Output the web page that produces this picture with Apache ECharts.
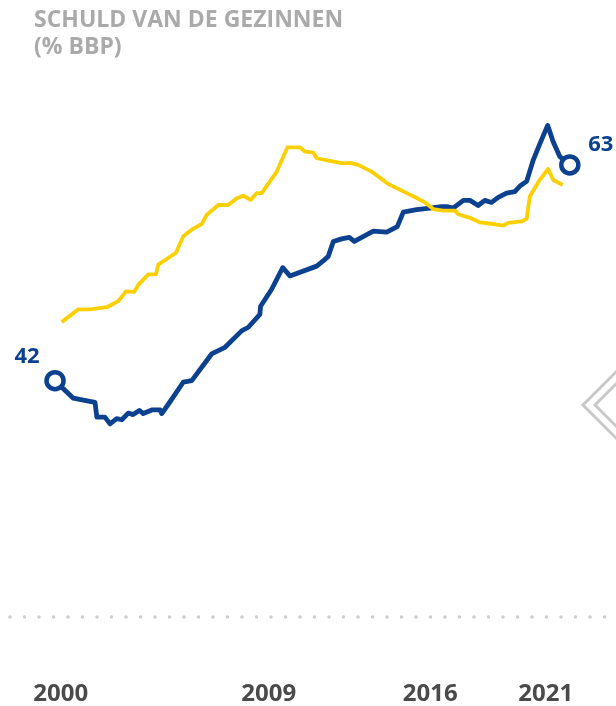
<!DOCTYPE html>
<html>
<head>
<meta charset="utf-8">
<script src="https://cdn.jsdelivr.net/npm/echarts@6/dist/echarts.min.js"></script>
<style>
  html, body { margin: 0; padding: 0; background: #fff; }
  #chart { width: 616px; height: 706px; }
</style>
</head>
<body>
<div id="chart"></div>
<script>
// Schuld van de gezinnen (% BBP) - blauw: België, geel: eurozone
const belgieYears = [
  2000.00, 2000.79, 2001.23, 2001.73, 2001.81, 2002.16, 2002.38, 2002.67, 2002.89, 2003.17,
  2003.38, 2003.65, 2003.82, 2004.19, 2004.55, 2004.62, 2004.98, 2005.55, 2005.92, 2006.78,
  2007.36, 2008.08, 2008.37, 2008.87, 2008.90, 2009.38, 2009.86, 2010.17, 2011.33, 2011.61,
  2011.83, 2012.05, 2012.41, 2012.74, 2012.96, 2013.28, 2013.78, 2014.36, 2014.82, 2015.08,
  2015.66, 2016.23, 2016.74, 2016.96, 2017.24, 2017.68, 2017.97, 2018.32, 2018.61, 2018.90,
  2019.19, 2019.55, 2019.91, 2020.13, 2020.42, 2020.71, 2021.00, 2021.33, 2021.57, 2021.86,
  2022.29
];
const belgieValues = [
  42.0, 40.3, 40.1, 39.9, 38.45, 38.45, 37.8, 38.3, 38.2, 38.85,
  38.7, 39.1, 38.8, 39.15, 39.15, 38.8, 39.95, 41.85, 42.0, 44.6,
  45.25, 46.85, 47.2, 48.45, 49.25, 50.9, 53.0, 52.2, 53.15, 53.65,
  54.1, 55.55, 55.8, 55.95, 55.55, 55.95, 56.55, 56.45, 57.0, 58.4,
  58.65, 58.8, 58.95, 58.95, 58.8, 59.55, 59.55, 59.05, 59.55, 59.35,
  59.85, 60.25, 60.4, 60.95, 61.4, 63.5, 65.1, 66.85, 65.25, 63.8,
  63.0
];
const euroYears = [
  2000.29, 2001.01, 2001.52, 2002.24, 2002.74, 2003.07, 2003.43, 2003.61, 2004.04, 2004.37,
  2004.47, 2005.24, 2005.55, 2005.92, 2006.35, 2006.57, 2007.07, 2007.50, 2007.87, 2008.15,
  2008.47, 2008.73, 2008.95, 2009.60, 2010.06, 2010.61, 2010.82, 2011.18, 2011.33, 2011.90,
  2012.48, 2012.77, 2013.13, 2013.71, 2014.43, 2015.01, 2015.51, 2016.02, 2016.38, 2016.81,
  2017.32, 2017.46, 2017.97, 2018.40, 2018.97, 2019.41, 2019.62, 2020.20, 2020.42, 2020.56,
  2020.99, 2021.35, 2021.57, 2021.98
];
const euroValues = [
  47.7, 48.95, 48.95, 49.15, 49.75, 50.7, 50.65, 51.35, 52.35, 52.35,
  53.3, 54.45, 56.05, 56.7, 57.25, 58.15, 59.1, 59.1, 59.75, 60.0,
  59.6, 60.25, 60.25, 62.35, 64.7, 64.7, 64.3, 64.2, 63.65, 63.4,
  63.15, 63.2, 63.0, 62.35, 61.15, 60.5, 59.95, 59.35, 58.7, 58.55,
  58.55, 58.2, 57.85, 57.4, 57.25, 57.1, 57.35, 57.5, 57.75, 59.95,
  61.55, 62.6, 61.55, 61.05
];
const tickYears = [2000, 2009, 2016, 2021];

const blue = '#0b418f';
const yellow = '#fcd000';

const chart = echarts.init(document.getElementById('chart'));

const belgieData = belgieYears.map((y, i) => [y, belgieValues[i]]);
const euroData = euroYears.map((y, i) => [y, euroValues[i]]);
const last = belgieData.length - 1;

const option = {
  animation: false,
  title: {
    text: 'SCHULD VAN DE GEZINNEN\n(% BBP)',
    left: 34,
    top: 7,
    padding: 0,
    textStyle: {
      fontFamily: 'Open Sans',
      fontSize: 23,
      fontWeight: 'bold',
      color: '#aaaaaa',
      lineHeight: 27
    }
  },
  grid: { left: 10, right: 0, top: 93, bottom: 89 },
  xAxis: {
    type: 'value',
    min: 1998.05,
    max: 2024.29,
    axisLine: {
      onZero: false,
      lineStyle: { color: '#cccccc', width: 3.5, type: [0, 14.5], cap: 'round' }
    },
    axisTick: { show: false },
    splitLine: { show: false },
    axisLabel: {
      customValues: tickYears.map(y => y + 0.25),
      formatter: v => String(Math.floor(v)),
      margin: 65,
      fontFamily: 'Open Sans',
      fontSize: 24,
      fontWeight: 'bold',
      color: '#4a4a4a'
    }
  },
  yAxis: {
    type: 'value',
    min: 19,
    max: 70,
    show: false
  },
  series: [
    {
      name: 'België',
      type: 'line',
      data: belgieData,
      showSymbol: false,
      lineStyle: { color: blue, width: 4.8, join: 'round' }
    },
    {
      name: 'Eurozone',
      type: 'line',
      data: euroData,
      showSymbol: false,
      lineStyle: { color: yellow, width: 3.8, join: 'round' }
    },
    {
      type: 'scatter',
      symbol: 'circle',
      symbolSize: 17,
      itemStyle: { color: '#ffffff', borderColor: blue, borderWidth: 4.5, opacity: 1 },
      label: {
        show: true,
        position: 'inside',
        formatter: p => String(Math.round(p.value[1])),
        fontFamily: 'Open Sans',
        fontSize: 22,
        fontWeight: 'bold',
        color: blue
      },
      data: [
        { value: belgieData[0], label: { offset: [-28, -24] } },
        { value: belgieData[last], label: { offset: [31, -20] } }
      ],
      z: 5
    }
  ],
  graphic: [
    {
      type: 'polygon',
      shape: { points: [[583, 405], [622, 366], [661, 405], [622, 444]] },
      style: { fill: 'none', stroke: '#c8c8c8', lineWidth: 3 }
    },
    {
      type: 'polygon',
      shape: { points: [[595, 405], [622, 378], [649, 405], [622, 432]] },
      style: { fill: 'none', stroke: '#c8c8c8', lineWidth: 3 }
    }
  ]
};

chart.setOption(option);
</script>
</body>
</html>
